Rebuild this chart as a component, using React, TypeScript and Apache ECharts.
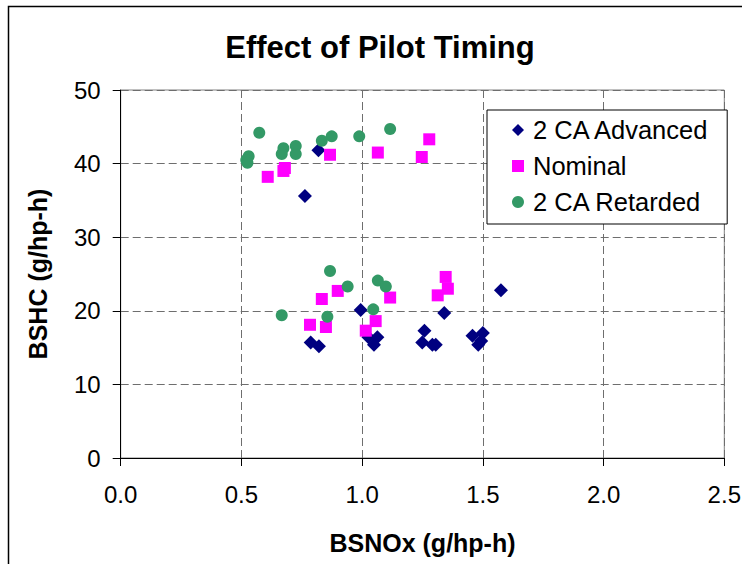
import React, { useEffect, useRef } from "react";
import * as echarts from "echarts";

const FONT = "'Liberation Sans', Arial, sans-serif";

const chartTitle = "Effect of Pilot Timing";
const xAxisTitle = "BSNOx (g/hp-h)";
const yAxisTitle = "BSHC (g/hp-h)";
const seriesNames = ["2 CA Advanced", "Nominal", "2 CA Retarded"];

// [BSNOx, BSHC]
const advanced: number[][] = [
  [0.819, 41.8],
  [0.763, 35.6],
  [0.787, 15.7],
  [0.821, 15.2],
  [0.994, 20.1],
  [1.026, 16.4],
  [1.063, 16.4],
  [1.049, 15.4],
  [1.34, 19.7],
  [1.258, 17.3],
  [1.249, 15.7],
  [1.291, 15.4],
  [1.305, 15.4],
  [1.457, 16.6],
  [1.5, 17.0],
  [1.493, 15.9],
  [1.481, 15.4],
  [1.575, 22.8],
];

const nominal: number[][] = [
  [0.609, 38.2],
  [0.68, 39.4],
  [0.674, 39.0],
  [0.867, 41.2],
  [1.065, 41.5],
  [1.247, 40.9],
  [1.278, 43.3],
  [0.833, 21.6],
  [0.899, 22.7],
  [0.784, 18.1],
  [0.85, 17.8],
  [1.056, 18.6],
  [1.015, 17.3],
  [1.116, 21.8],
  [1.346, 24.6],
  [1.355, 23.0],
  [1.313, 22.1],
];

const retarded: number[][] = [
  [0.574, 44.2],
  [0.53, 41.0],
  [0.52, 40.5],
  [0.525, 40.1],
  [0.674, 42.1],
  [0.667, 41.3],
  [0.725, 42.4],
  [0.725, 41.3],
  [0.833, 43.1],
  [0.874, 43.7],
  [0.988, 43.7],
  [1.116, 44.7],
  [0.867, 25.4],
  [0.94, 23.3],
  [0.667, 19.4],
  [0.856, 19.2],
  [1.065, 24.1],
  [1.098, 23.3],
  [1.046, 20.2],
];

export default function App() {
  const ref = useRef<HTMLDivElement>(null);

  useEffect(() => {
    if (!ref.current) return;
    const chart = echarts.init(ref.current, undefined, { renderer: "svg" });
    const gridLine = { show: true, lineStyle: { color: "#6e6e6e", type: [8, 4] as any, width: 1 } };
    chart.setOption({
      animation: false,
      backgroundColor: "#ffffff",
      title: {
        text: chartTitle,
        left: 375,
        textAlign: "center",
        top: 27,
        textStyle: { fontFamily: FONT, fontSize: 31, fontWeight: "bold", color: "#000" },
      },
      graphic: [
        {
          type: "polyline",
          shape: { points: [[8.5, 580], [8.5, 6.5], [742, 6.5]] },
          style: { stroke: "#000", lineWidth: 1.5, fill: "none" },
          silent: true,
        },
      ],
      grid: { left: 120.7, right: 19.7, top: 90, bottom: 106, show: true, borderColor: "#808080", borderWidth: 1 },
      legend: {
        orient: "vertical",
        left: 487,
        top: 110,
        backgroundColor: "#ffffff",
        borderColor: "#000",
        borderWidth: 1,
        padding: [7, 17, 9, 25],
        itemWidth: 12,
        itemHeight: 12,
        itemGap: 10,
        textStyle: { fontFamily: FONT, fontSize: 25.5, color: "#000", lineHeight: 24, padding: [0, 0, 0, 4] },
        data: seriesNames,
      },
      xAxis: {
        type: "value",
        min: 0,
        max: 2.5,
        interval: 0.5,
        name: xAxisTitle,
        nameLocation: "middle",
        nameGap: 72,
        nameTextStyle: { fontFamily: FONT, fontSize: 25, fontWeight: "bold", color: "#000" },
        axisLine: { show: true, onZero: false, lineStyle: { color: "#000", width: 1 } },
        axisTick: { show: true, length: 8, lineStyle: { color: "#000" } },
        axisLabel: {
          fontFamily: FONT,
          fontSize: 24,
          color: "#000",
          margin: 24,
          formatter: (v: number) => v.toFixed(1),
        },
        splitLine: gridLine,
      },
      yAxis: {
        type: "value",
        min: 0,
        max: 50,
        interval: 10,
        name: yAxisTitle,
        nameLocation: "middle",
        nameGap: 70,
        nameRotate: 90,
        nameTextStyle: { fontFamily: FONT, fontSize: 25, fontWeight: "bold", color: "#000" },
        axisLine: { show: true, onZero: false, lineStyle: { color: "#000", width: 1 } },
        axisTick: { show: true, length: 8, lineStyle: { color: "#000" } },
        axisLabel: { fontFamily: FONT, fontSize: 24, color: "#000", margin: 20 },
        splitLine: gridLine,
      },
      series: [
        {
          name: seriesNames[0],
          type: "scatter",
          symbol: "diamond",
          symbolSize: 14,
          itemStyle: { color: "#000080", opacity: 1 },
          data: advanced,
        },
        {
          name: seriesNames[1],
          type: "scatter",
          symbol: "rect",
          symbolSize: 12,
          itemStyle: { color: "#ff00ff", opacity: 1 },
          data: nominal,
        },
        {
          name: seriesNames[2],
          type: "scatter",
          symbol: "circle",
          symbolSize: 12,
          itemStyle: { color: "#339966", opacity: 1 },
          data: retarded,
        },
      ],
    });
    return () => chart.dispose();
  }, []);

  return (
    <div
      ref={ref}
      style={{ position: "absolute", left: 0, top: 0, width: 744, height: 564, background: "#fff" }}
    />
  );
}
